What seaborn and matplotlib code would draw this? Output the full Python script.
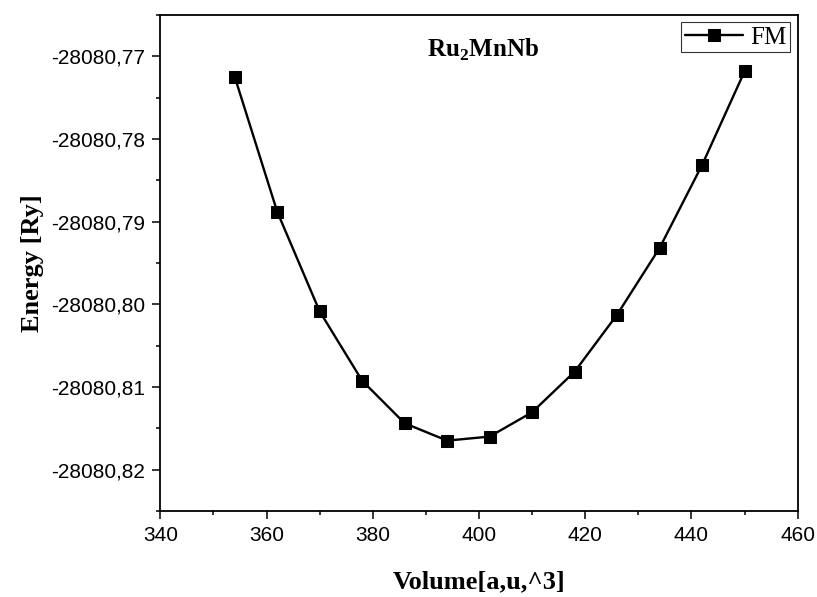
import pandas as pd
import matplotlib
matplotlib.use("Agg")
import matplotlib.pyplot as plt
import seaborn as sns
from matplotlib.ticker import FuncFormatter, MultipleLocator

# data
volume = [354, 362, 370, 378, 386, 394, 402, 410, 418, 426, 434, 442, 450]
energy = [-28080.77245, -28080.78878, -28080.80085, -28080.80924, -28080.81439,
          -28080.81649, -28080.81600, -28080.81306, -28080.80815, -28080.80125,
          -28080.79318, -28080.78314, -28080.77181]
series = ["FM"] * len(volume)

df = pd.DataFrame({"Volume": volume, "Energy": energy, "Phase": series})

sns.set_style("ticks")
plt.rcParams["font.family"] = ["Liberation Sans", "DejaVu Sans"]
plt.rcParams["text.color"] = "black"
plt.rcParams["axes.labelcolor"] = "black"
plt.rcParams["xtick.color"] = "black"
plt.rcParams["ytick.color"] = "black"
plt.rcParams["mathtext.fontset"] = "custom"
plt.rcParams["mathtext.rm"] = "Liberation Serif:bold"
plt.rcParams["mathtext.bf"] = "Liberation Serif:bold"

fig = plt.figure(figsize=(8.17, 5.97), dpi=100)
ax = fig.add_axes([0.1962, 0.1441, 0.7802, 0.8308])

sns.lineplot(data=df, x="Volume", y="Energy", hue="Phase", palette=["black"],
             marker="s", markersize=8, markeredgecolor="black", linewidth=1.7, ax=ax)

ax.set_xlim(340, 460)
ax.set_ylim(-28080.825, -28080.765)
ax.xaxis.set_major_locator(MultipleLocator(20))
ax.xaxis.set_minor_locator(MultipleLocator(10))
ax.yaxis.set_major_locator(MultipleLocator(0.01))
ax.yaxis.set_minor_locator(MultipleLocator(0.005))
ax.yaxis.set_major_formatter(FuncFormatter(lambda v, p: f"{v:.2f}".replace(".", ",")))
ax.tick_params(which="major", direction="out", length=6, width=1.1, labelsize=15,
               pad=5, top=False, right=False)
ax.tick_params(which="minor", direction="out", length=3, width=1.1, top=False, right=False)
for s in ax.spines.values():
    s.set_linewidth(1.3)
    s.set_color("black")

serif = ["Liberation Serif", "DejaVu Serif"]
ax.set_xlabel("Volume[a,u,^3]", fontsize=19, fontweight="bold", family=serif, labelpad=18)
ax.set_ylabel("Energy [Ry]", fontsize=19, fontweight="bold", family=serif, labelpad=5)
ax.text(0.506, 0.929, r"Ru$_\mathregular{2}$MnNb", transform=ax.transAxes, ha="center",
        va="center", fontsize=18, fontweight="bold", family=serif)

leg = ax.legend(loc="upper right", prop={"family": serif, "size": 18},
                frameon=True, fancybox=False, edgecolor="black", handlelength=2.3,
                borderpad=0.15, borderaxespad=0.3, handletextpad=0.3)
leg.get_frame().set_linewidth(0.8)

fig.savefig("out.png", dpi=100)
